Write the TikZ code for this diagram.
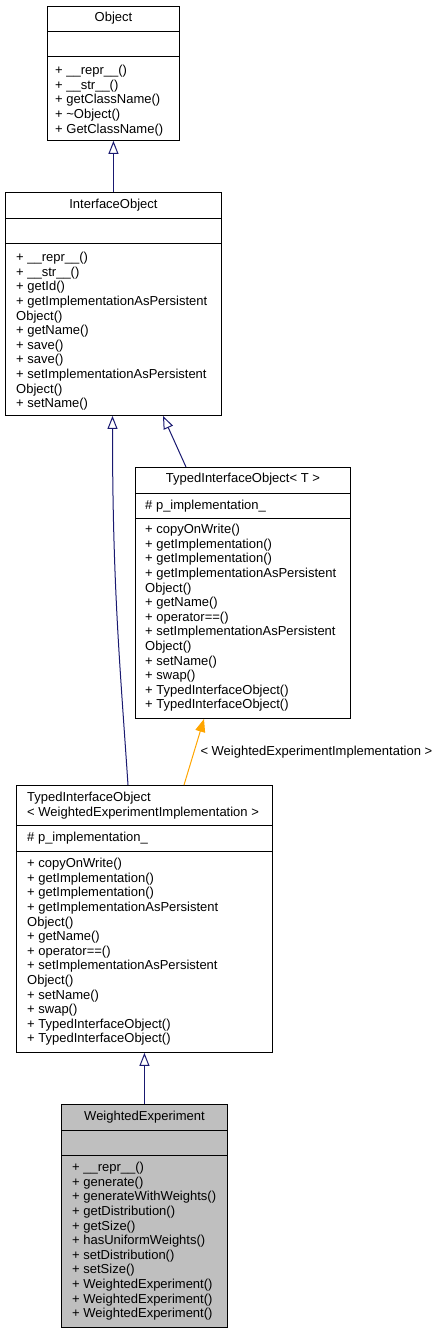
\documentclass[tikz,border=0pt]{standalone}
\usepackage{fontspec}
\setmainfont{Liberation Sans}
\usetikzlibrary{arrows.meta}
\definecolor{edgeblue}{HTML}{191970}
\definecolor{edgeorange}{HTML}{FFA500}
\definecolor{classgray}{HTML}{BFBFBF}
\tikzstyle{classbox}=[draw, rectangle, inner sep=0pt, anchor=north west, line width=0.9pt]
\tikzstyle{classname}=[inner sep=0pt]
\tikzstyle{members}=[inner sep=0pt, anchor=north west, align=left]
\tikzstyle{inherit}=[draw=edgeblue, line width=1pt,
  -{Triangle[open, length=13pt, width=10pt]}]
\tikzstyle{bind}=[draw=edgeorange, line width=1pt,
  -{Triangle[length=13pt, width=10pt]}]
\tikzstyle{bindlabel}=[inner sep=0pt, anchor=west, xshift=6pt, text=black]

\begin{document}
\begin{tikzpicture}[x=1pt, y=-1pt, font=\fontsize{13}{14.6}\selectfont]
  \useasboundingbox (0,0) rectangle (440,1333);

  % Object
  \node [classbox, minimum width=132pt, minimum height=134pt] (obj) at (47,6) {};
  \node [classname] (objname) at ([yshift=-12.5pt]obj.north) {Object};
  \draw ([yshift=-25pt]obj.north west) -- ([yshift=-25pt]obj.north east);
  \draw ([yshift=-50pt]obj.north west) -- ([yshift=-50pt]obj.north east);
  \node [members] (objops) at ([xshift=8pt, yshift=-59pt]obj.north west)
    {+ \_\_repr\_\_()\\+ \_\_str\_\_()\\+ getClassName()\\
     + \textasciitilde Object()\\+ GetClassName()};

  % InterfaceObject
  \node [classbox, minimum width=216pt, minimum height=223pt] (iobj) at (5,192) {};
  \node [classname] (iobjname) at ([yshift=-13pt]iobj.north) {InterfaceObject};
  \draw ([yshift=-26pt]iobj.north west) -- ([yshift=-26pt]iobj.north east);
  \draw ([yshift=-51pt]iobj.north west) -- ([yshift=-51pt]iobj.north east);
  \node [members] (iobjops) at ([xshift=11pt, yshift=-60pt]iobj.north west)
    {+ \_\_repr\_\_()\\+ \_\_str\_\_()\\+ getId()\\
     + getImplementationAsPersistent\\Object()\\+ getName()\\
     + save()\\+ save()\\+ setImplementationAsPersistent\\Object()\\
     + setName()};

  % TypedInterfaceObject< T >
  \node [classbox, minimum width=215pt, minimum height=251pt] (tiot) at (135,467) {};
  \node [classname] (tiotname) at ([yshift=-12.5pt]tiot.north)
    {TypedInterfaceObject\textless{} T \textgreater};
  \draw ([yshift=-26pt]tiot.north west) -- ([yshift=-26pt]tiot.north east);
  \draw ([yshift=-51pt]tiot.north west) -- ([yshift=-51pt]tiot.north east);
  \node [members] (tiotattr) at ([xshift=10pt, yshift=-33pt]tiot.north west)
    {\# p\_implementation\_};
  \node [members] (tiotops) at ([xshift=10pt, yshift=-57pt]tiot.north west)
    {+ copyOnWrite()\\+ getImplementation()\\+ getImplementation()\\
     + getImplementationAsPersistent\\Object()\\+ getName()\\
     + operator==()\\+ setImplementationAsPersistent\\Object()\\
     + setName()\\+ swap()\\+ TypedInterfaceObject()\\
     + TypedInterfaceObject()};

  % TypedInterfaceObject< WeightedExperimentImplementation >
  \node [classbox, minimum width=256pt, minimum height=267pt] (tiowei) at (16,785) {};
  \node [members] (tioweiname) at ([xshift=11pt, yshift=-7pt]tiowei.north west)
    {TypedInterfaceObject\\
     \textless{} WeightedExperimentImplementation \textgreater};
  \draw ([yshift=-40pt]tiowei.north west) -- ([yshift=-40pt]tiowei.north east);
  \draw ([yshift=-66pt]tiowei.north west) -- ([yshift=-66pt]tiowei.north east);
  \node [members] (tioweiattr) at ([xshift=11pt, yshift=-47pt]tiowei.north west)
    {\# p\_implementation\_};
  \node [members] (tioweiops) at ([xshift=11pt, yshift=-73pt]tiowei.north west)
    {+ copyOnWrite()\\+ getImplementation()\\+ getImplementation()\\
     + getImplementationAsPersistent\\Object()\\+ getName()\\
     + operator==()\\+ setImplementationAsPersistent\\Object()\\
     + setName()\\+ swap()\\+ TypedInterfaceObject()\\
     + TypedInterfaceObject()};

  % WeightedExperiment
  \node [classbox, fill=classgray, minimum width=166pt, minimum height=223pt] (wexp) at (61,1104) {};
  \node [classname] (wexpname) at ([yshift=-13pt]wexp.north) {WeightedExperiment};
  \draw ([yshift=-26pt]wexp.north west) -- ([yshift=-26pt]wexp.north east);
  \draw ([yshift=-51pt]wexp.north west) -- ([yshift=-51pt]wexp.north east);
  \node [members] (wexpops) at ([xshift=11pt, yshift=-58pt]wexp.north west)
    {+ \_\_repr\_\_()\\+ generate()\\+ generateWithWeights()\\
     + getDistribution()\\+ getSize()\\+ hasUniformWeights()\\
     + setDistribution()\\+ setSize()\\+ WeightedExperiment()\\
     + WeightedExperiment()\\+ WeightedExperiment()};

  % connectors
  \draw [inherit] (iobj.north) -- (obj.south);
  \draw [inherit] ([xshift=51pt]tiot.north west) -- ([xshift=158pt]iobj.south west);
  \draw [inherit] ([xshift=112pt]tiowei.north west)
    .. controls +(-8,-120) and +(0,170) .. ([xshift=107.5pt]iobj.south west);
  \draw [bind] ([xshift=168pt]tiowei.north west) --
    node [bindlabel] (bindtext)
    {\textless{} WeightedExperimentImplementation \textgreater}
    ([xshift=69pt]tiot.south west);
  \draw [inherit] (wexp.north) -- (tiowei.south);
\end{tikzpicture}
\end{document}
